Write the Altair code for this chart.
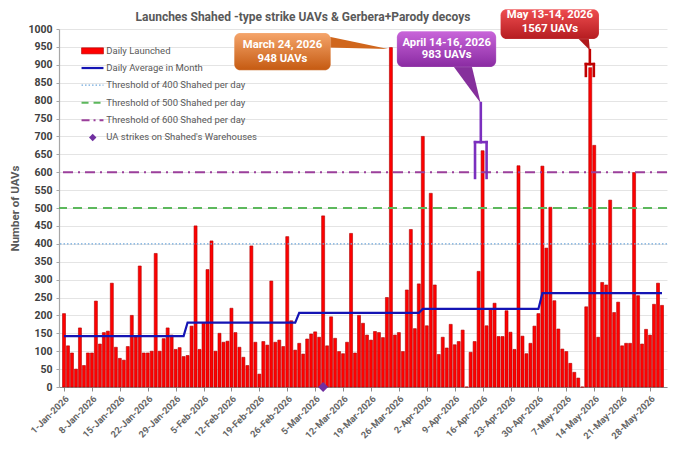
import altair as alt
import pandas as pd

# ---------------- data ----------------
START = "2026-01-01"
DAILY = [
    205, 115, 95, 50, 165, 60, 95, 95, 240, 120, 152, 156, 290, 111, 80, 75, 113, 200, 140, 338, 95, 95, 100, 373, 100, 135,
    165, 145, 105, 110, 85,
    88, 170, 450, 105, 180, 328, 408, 100, 150, 125, 128, 220, 152, 111, 83, 60, 394, 125, 36, 127, 117, 296, 125, 131, 113, 420, 185, 103,
    122, 92, 134, 148, 154, 139, 478, 115, 196, 136, 99, 93, 125, 429, 95, 200, 178, 145, 131, 155, 152, 138, 250, 948, 145, 152, 99, 271, 440, 163, 288,
    700, 171, 541, 285, 91, 139, 109, 175, 118, 127, 159, 0, 97, 127, 323, 660, 171, 217, 234, 141, 141, 213, 153, 105, 618, 142, 93, 122, 170, 205,
    617, 388, 502, 241, 162, 106, 99, 66, 41, 25, 0, 224, 892, 675, 139, 292, 285, 522, 208, 237, 115, 122, 122, 599, 255, 120, 161, 145, 231, 290, 228,
]
MONTH_DAYS = [31, 28, 31, 30, 31]
MONTH_AVG = [142, 180, 207, 218, 262]
STRIKE_DATES = ["2026-03-07"]
STRIKE_VALUES = [0]
THRESHOLDS = [400, 500, 600]
TICK_DATES = ["2026-01-01", "2026-01-08", "2026-01-15", "2026-01-22", "2026-01-29",
              "2026-02-05", "2026-02-12", "2026-02-19", "2026-02-26",
              "2026-03-05", "2026-03-12", "2026-03-19", "2026-03-26",
              "2026-04-02", "2026-04-09", "2026-04-16", "2026-04-23", "2026-04-30",
              "2026-05-07", "2026-05-14", "2026-05-21", "2026-05-28"]
LEGEND_LABELS = ["Daily Launched", "Daily Average in Month", "Threshold of 400 Shahed per day",
                 "Threshold of 500 Shahed per day", "Threshold of 600 Shahed per day",
                 "UA strikes on Shahed's Warehouses"]
TITLE = "Launches Shahed -type strike UAVs & Gerbera+Parody decoys"
CALLOUT_TEXT = [["March 24, 2026", "948 UAVs"], ["April 14-16, 2026", "983 UAVs"], ["May 13-14, 2026", "1567 UAVs"]]

# ---------------- helpers ----------------
DAY_MS = 86400000
BASE_MS = int(pd.Timestamp(START, tz="UTC").value // 10**6)


def ms(day):
    return BASE_MS + day * DAY_MS


def ms_date(s):
    return int(pd.Timestamp(s, tz="UTC").value // 10**6)


RED = "#FF0000"
RED_EDGE = "#B00000"
BLUE = "#1414B4"
C400 = "#6FA8DC"
C500 = "#5CB85C"
C600 = "#9B3F9B"
DIAMOND = "#7030A0"
PURPLE = "#7B2FBE"
DARKRED = "#C00000"
THR_STYLE = {400: (C400, 1.3, [1.5, 2]), 500: (C500, 2, [9, 6]), 600: (C600, 2, [10, 5, 2, 5])}

xscale = alt.Scale(type="utc", domain=[ms(0), ms(len(DAILY) - 1)])
xaxis = alt.Axis(values=[ms_date(s) for s in TICK_DATES],
                 labelExpr="utcFormat(datum.value, '%-d-%b-%Y')",
                 labelAngle=-45, labelFontSize=9.3, labelFontWeight="bold", labelColor="#666666",
                 labelFlush=False, labelOverlap=False, labelBound=False, labelPadding=3,
                 tickSize=4, tickColor="#8C8C8C", domainColor="#8C8C8C", domainWidth=1.2,
                 grid=False, title=None)
yscale = alt.Scale(domain=[0, 1000], nice=False, zero=True)
yaxis = alt.Axis(values=list(range(0, 1001, 50)), format="d", title="Number of UAVs",
                 titleFontSize=11.5, titleFontWeight="bold", titleColor="#595959", titlePadding=7,
                 labelFontSize=10.5, labelFontWeight="bold", labelColor="#404040", labelPadding=4,
                 tickSize=3, tickColor="#A6A6A6", domainColor="#A6A6A6", domainWidth=1.2,
                 grid=True, gridColor="#E4E4E4", gridWidth=1)

X = alt.X("t:T", scale=xscale, axis=xaxis)
Y = alt.Y("v:Q", scale=yscale, axis=yaxis)

# ---------------- tables ----------------
bars_df = pd.DataFrame({"t": [ms(i) for i in range(len(DAILY))], "v": DAILY})

avg_vals = []
for n, a in zip(MONTH_DAYS, MONTH_AVG):
    avg_vals += [a] * n
avg_df = pd.DataFrame({"t": [ms(i) for i in range(len(avg_vals))], "v": avg_vals})

strike_df = pd.DataFrame({"t": [ms_date(s) for s in STRIKE_DATES], "v": STRIKE_VALUES})

layers = []

# bars
layers.append(alt.Chart(bars_df).mark_bar(size=3, fill=RED, stroke=RED_EDGE, strokeWidth=0.6).encode(x=X, y=Y))

# thresholds
for th in THRESHOLDS:
    col, w, dash = THR_STYLE[th]
    layers.append(alt.Chart(pd.DataFrame({"v": [th]})).mark_rule(color=col, strokeWidth=w, strokeDash=dash).encode(y=Y))

# monthly average
layers.append(alt.Chart(avg_df).mark_line(color=BLUE, strokeWidth=2.2).encode(x=X, y=Y))

# strikes
layers.append(alt.Chart(strike_df).mark_point(shape="diamond", filled=True, size=100, color=DIAMOND, opacity=1).encode(x=X, y=Y))


def grad(top, bottom):
    return alt.Gradient(gradient="linear", x1=0, x2=0, y1=0, y2=1,
                        stops=[alt.GradientStop(color=top, offset=0), alt.GradientStop(color=bottom, offset=1)])


def down_wedge(xa, xb, ytop, xtip, ytip):
    """triangle with a horizontal top edge (xa..xb at ytop) and a tip below, as an area over x"""
    yac = ytop + (ytip - ytop) * (xb - xa) / (xtip - xa)
    return pd.DataFrame({"t": [ms(xa), ms(xb), ms(xtip)], "v": [ytop, ytop, ytip], "v2": [ytop, yac, ytip]})


# ---------------- callouts (positions in day offsets / values) ----------------
CALLOUTS = [
    dict(box=(42.7, 66.9, 885, 989), fill=grad("#F5A56B", "#C55A11"), tx=54.8, ty=(955, 917),
         wedge=pd.DataFrame({"t": [ms(66.0), ms(81.3)], "v": [980, 944], "v2": [948, 944]}), wcolor="#D0661C",
         rules=[], rcolor="#C55A11"),
    dict(box=(83.5, 108.4, 894, 994), fill=grad("#C965DA", "#8A2BA2"), tx=96.0, ty=(962, 926),
         wedge=down_wedge(97.4, 102.2, 900, 104.5, 793), wcolor="#86309C",
         rules=[(104.55, 793, 104.55, 684), (103.1, 684, 106.0, 684), (103.1, 684, 103.1, 584), (106.0, 684, 106.0, 584)],
         rcolor=PURPLE),
    dict(box=(109.5, 134.2, 972, 1055), fill=grad("#EE4D50", "#B51C20"), tx=121.9, ty=(1040, 1001),
         wedge=down_wedge(128.6, 131.6, 978, 131.9, 941), wcolor="#B0181C",
         rules=[(131.9, 941, 131.9, 902), (130.9, 902, 132.9, 902), (130.9, 902, 130.9, 869), (132.9, 902, 132.9, 869)],
         rcolor=DARKRED),
]

for c, lines in zip(CALLOUTS, CALLOUT_TEXT):
    x0, x1, y0, y1 = c["box"]
    layers.append(alt.Chart(c["wedge"]).mark_area(color=c["wcolor"], opacity=1).encode(x=X, y=Y, y2="v2:Q"))
    bdf = pd.DataFrame({"t": [ms(x0)], "t2": [ms(x1)], "v": [y0], "v2": [y1]})
    layers.append(alt.Chart(bdf).mark_rect(fill=c["fill"], cornerRadius=6, stroke="#FFFFFF", strokeOpacity=0.3, strokeWidth=0.5)
                  .encode(x=X, x2="t2:T", y=Y, y2="v2:Q"))
    tdf = pd.DataFrame({"t": [ms(c["tx"])] * 2, "v": list(c["ty"]), "label": lines})
    layers.append(alt.Chart(tdf).mark_text(color="white", fontSize=11.3, fontWeight="bold", align="center", baseline="middle")
                  .encode(x=X, y=Y, text="label:N"))
    if c["rules"]:
        rdf = pd.DataFrame({"t": [ms(r[0]) for r in c["rules"]], "v": [r[1] for r in c["rules"]],
                            "t2": [ms(r[2]) for r in c["rules"]], "v2": [r[3] for r in c["rules"]]})
        layers.append(alt.Chart(rdf).mark_rule(color=c["rcolor"], strokeWidth=2.6, strokeCap="square")
                      .encode(x=X, y=Y, x2="t2:T", y2="v2:Q"))

# ---------------- legend (inside the plot, in data coordinates) ----------------
LEG_ROWS = [939, 891, 843, 794, 745, 697]
LEG_X0, LEG_X1, LEG_TX, LEG_DX = 4.4, 9.9, 10.6, 7.2

layers.append(alt.Chart(pd.DataFrame({"t": [ms(LEG_X0)], "t2": [ms(LEG_X1)], "v": [LEG_ROWS[0] + 8.5], "v2": [LEG_ROWS[0] - 8.5]}))
              .mark_rect(fill=RED, stroke=RED_EDGE, strokeWidth=0.6).encode(x=X, x2="t2:T", y=Y, y2="v2:Q"))
leg_lines = [(LEG_ROWS[1], BLUE, 2.2, None), (LEG_ROWS[2], C400, 1.3, [1.5, 2]),
             (LEG_ROWS[3], C500, 2, [7, 5]), (LEG_ROWS[4], C600, 2, [8, 4, 2, 4])]
for v, col, wdt, dash in leg_lines:
    kw = dict(color=col, strokeWidth=wdt)
    if dash:
        kw["strokeDash"] = dash
    layers.append(alt.Chart(pd.DataFrame({"t": [ms(LEG_X0)], "t2": [ms(LEG_X1)], "v": [v]}))
                  .mark_rule(**kw).encode(x=X, x2="t2:T", y=Y))
layers.append(alt.Chart(pd.DataFrame({"t": [ms(LEG_DX)], "v": [LEG_ROWS[5]]}))
              .mark_point(shape="diamond", filled=True, size=55, color=DIAMOND, opacity=1).encode(x=X, y=Y))
layers.append(alt.Chart(pd.DataFrame({"t": [ms(LEG_TX)] * len(LEGEND_LABELS), "v": LEG_ROWS, "label": LEGEND_LABELS}))
              .mark_text(align="left", baseline="middle", fontSize=9.5, color="#595959")
              .encode(x=X, y=Y, text="label:N"))

chart = alt.layer(*layers).properties(
    width=608, height=358,
    title=alt.TitleParams(TITLE, fontSize=12, fontWeight="bold", color="#595959", anchor="middle",
                          frame="group", dx=-60, offset=-15),
    autosize=alt.AutoSizeParams(type="none"),
    padding={"left": 51, "top": 21, "right": 5, "bottom": 60},
).configure(font="Roboto", background="white").configure_view(stroke=None)

chart.save("out.html", embed_options={"renderer": "svg", "actions": False})
